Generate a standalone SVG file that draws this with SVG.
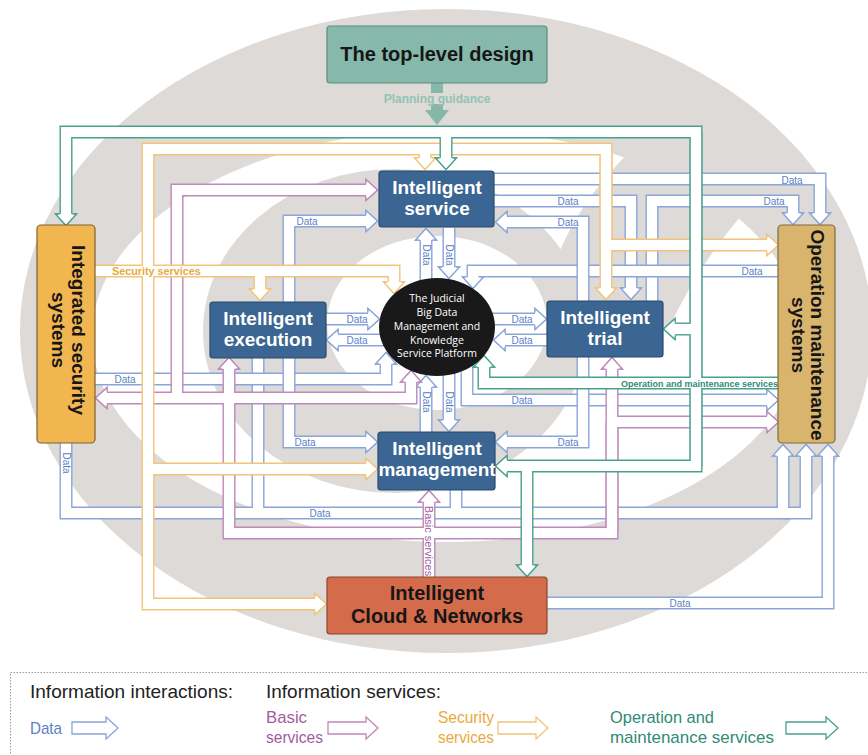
<svg xmlns="http://www.w3.org/2000/svg" width="868" height="755" viewBox="0 0 868 755">
<style>
  .edge{fill:none;stroke-width:13}
  .core{fill:none;stroke:#fff;stroke-width:10.2}
  .c-d{stroke:#89a5d9}
  .c-b{stroke:#bd88ba}
  .c-s{stroke:#f1c47a}
  .c-o{stroke:#48a18d}
  .sans{font-family:"Liberation Sans",Arial,sans-serif}
  .t-d{font-family:"Liberation Sans",Arial,sans-serif;font-size:10px;fill:#5b80c7;text-anchor:middle}
  .box{stroke-width:1.2}
  .t-w{font-family:"Liberation Sans",Arial,sans-serif;font-weight:bold;font-size:19px;fill:#fff;text-anchor:middle}
  .t-k{font-family:"Liberation Sans",Arial,sans-serif;font-weight:bold;font-size:20px;fill:#161616;text-anchor:middle}
  .t-side{font-family:"Liberation Sans",Arial,sans-serif;font-weight:bold;font-size:19px;fill:#161616;text-anchor:middle}
  .t-plat{font-family:"Open Sans","Liberation Sans",sans-serif;font-size:10.5px;fill:#fff;text-anchor:middle}
  .lg-h{font-family:"Liberation Sans",Arial,sans-serif;font-size:19px;fill:#222}
  .lg-t{font-family:"Liberation Sans",Arial,sans-serif;font-size:17px}
  .lg-a{fill:#fff;stroke-width:1.3}
  .ring{fill:#dedad7}
</style>
<defs>
  <clipPath id="outer-clip">
    <ellipse cx="446" cy="331" rx="426" ry="322"/>
  </clipPath>
  <marker id="hd" markerUnits="userSpaceOnUse" markerWidth="12" markerHeight="22" refX="0" refY="0" orient="auto" overflow="visible">
    <path d="M0,-6.5 L0,-10.5 L11.5,0 L0,10.5 L0,6.5" fill="#fff" stroke="#89a5d9" stroke-width="1.3"/>
  </marker>
  <marker id="hb" markerUnits="userSpaceOnUse" markerWidth="12" markerHeight="22" refX="0" refY="0" orient="auto" overflow="visible">
    <path d="M0,-6.5 L0,-10.5 L11.5,0 L0,10.5 L0,6.5" fill="#fff" stroke="#bd88ba" stroke-width="1.3"/>
  </marker>
  <marker id="hs" markerUnits="userSpaceOnUse" markerWidth="12" markerHeight="22" refX="0" refY="0" orient="auto" overflow="visible">
    <path d="M0,-6.5 L0,-10.5 L11.5,0 L0,10.5 L0,6.5" fill="#fff" stroke="#f1c47a" stroke-width="1.3"/>
  </marker>
  <marker id="ho" markerUnits="userSpaceOnUse" markerWidth="12" markerHeight="22" refX="0" refY="0" orient="auto" overflow="visible">
    <path d="M0,-6.5 L0,-10.5 L11.5,0 L0,10.5 L0,6.5" fill="#fff" stroke="#48a18d" stroke-width="1.3"/>
  </marker>

  <!-- data routes (centre lines of the hollow bands) -->
  <g id="dBottom">
    <path d="M66 441V513H783V456" marker-end="url(#hd)"/>
    <path d="M783 513H806V456" marker-end="url(#hd)"/>
    <path d="M258 356V513"/>
    <path d="M456 489V513"/>
  </g>
  <path id="dCloud" d="M546 603H828V456" marker-end="url(#hd)"/>
  <path id="dSvcOm" d="M494 179H820V213" marker-end="url(#hd)"/>
  <g id="dSvcTrialOm">
    <path d="M494 201H631V288" marker-end="url(#hd)"/>
    <path d="M652 302V201H793V213" marker-end="url(#hd)"/>
  </g>
  <path id="dOmPlat" d="M779 271H473V277" marker-end="url(#hd)"/>
  <path id="dPlatOm" d="M467 362V400H767" marker-end="url(#hd)"/>
  <path id="dSecPlat" d="M93 379H386V364" marker-end="url(#hd)"/>
  <g id="dLeft">
    <path d="M289 331V221H366" marker-end="url(#hd)"/>
    <path d="M289 331V442H366" marker-end="url(#hd)"/>
  </g>
  <g id="dRight">
    <path d="M583 331V222H507" marker-end="url(#hd)"/>
    <path d="M583 331V442H507" marker-end="url(#hd)"/>
  </g>
  <path id="dA" d="M449 228V267" marker-end="url(#hd)"/>
  <path id="dB" d="M426 284V240" marker-end="url(#hd)"/>
  <path id="dC" d="M449 372V420" marker-end="url(#hd)"/>
  <path id="dD" d="M426 432V387" marker-end="url(#hd)"/>
  <path id="dE" d="M326 319H368" marker-end="url(#hd)"/>
  <path id="dF" d="M384 340H338" marker-end="url(#hd)"/>
  <path id="dG" d="M490 319H535" marker-end="url(#hd)"/>
  <path id="dH" d="M549 340H505" marker-end="url(#hd)"/>

  <!-- basic services -->
  <g id="pNet">
    <path d="M429 578V502" marker-end="url(#hb)"/>
    <path d="M612 422V533H229V369" marker-end="url(#hb)"/>
    <path d="M612 533V369" marker-end="url(#hb)"/>
    <path d="M612 422H767" marker-end="url(#hb)"/>
    <path d="M229 398H411V382" marker-end="url(#hb)"/>
    <path d="M229 398H107" marker-end="url(#hb)"/>
    <path d="M177 398V190H366" marker-end="url(#hb)"/>
  </g>

  <!-- security services -->
  <g id="sNet">
    <path d="M93 271H394V282" marker-end="url(#hs)"/>
    <path d="M260 271V289" marker-end="url(#hs)"/>
    <path d="M606 245V149H148V604H315" marker-end="url(#hs)"/>
    <path d="M606 149V288" marker-end="url(#hs)"/>
    <path d="M606 245H767" marker-end="url(#hs)"/>
    <path d="M425 149V158" marker-end="url(#hs)"/>
    <path d="M148 469H366" marker-end="url(#hs)"/>
  </g>

  <!-- operation and maintenance services -->
  <g id="oNet">
    <path d="M696 466V132H66V214" marker-end="url(#ho)"/>
    <path d="M696 132V466H507" marker-end="url(#ho)"/>
    <path d="M446 132V158" marker-end="url(#ho)"/>
    <path d="M696 329H675" marker-end="url(#ho)"/>
    <path d="M785 383H484V367" marker-end="url(#ho)"/>
    <path d="M527 466V565" marker-end="url(#ho)"/>
  </g>
</defs>

<rect width="868" height="755" fill="#fff"/>

<!-- layered rings behind the architecture -->
<g id="rings">
  <ellipse class="ring" cx="446" cy="331" rx="426" ry="322"/>
  <ellipse cx="447" cy="336" rx="355" ry="206" fill="#fff"/>
  <ellipse class="ring" cx="395" cy="331" rx="192" ry="162"/>
  <!-- arm of the inner ring sweeping out to the upper right -->
  <path class="ring" clip-path="url(#outer-clip)" d="M545 300 C558 232 600 172 668 118 L750 58 L868 64 L868 112 C792 154 716 226 668 330 Z"/>
  <ellipse cx="437" cy="323" rx="110" ry="87" fill="#fff"/>
</g>

<g id="connectors">
  <g id="data-links">
    <use href="#dBottom" class="edge c-d"/><use href="#dBottom" class="core"/>
    <use href="#dCloud" class="edge c-d"/><use href="#dCloud" class="core"/>
    <use href="#dSvcOm" class="edge c-d"/><use href="#dSvcOm" class="core"/>
    <use href="#dSvcTrialOm" class="edge c-d"/><use href="#dSvcTrialOm" class="core"/>
    <use href="#dOmPlat" class="edge c-d"/><use href="#dOmPlat" class="core"/>
    <use href="#dPlatOm" class="edge c-d"/><use href="#dPlatOm" class="core"/>
    <use href="#dSecPlat" class="edge c-d"/><use href="#dSecPlat" class="core"/>
    <use href="#dLeft" class="edge c-d"/><use href="#dLeft" class="core"/>
    <use href="#dRight" class="edge c-d"/><use href="#dRight" class="core"/>
    <use href="#dA" class="edge c-d"/><use href="#dA" class="core"/>
    <use href="#dB" class="edge c-d"/><use href="#dB" class="core"/>
    <use href="#dC" class="edge c-d"/><use href="#dC" class="core"/>
    <use href="#dD" class="edge c-d"/><use href="#dD" class="core"/>
    <use href="#dE" class="edge c-d"/><use href="#dE" class="core"/>
    <use href="#dF" class="edge c-d"/><use href="#dF" class="core"/>
    <use href="#dG" class="edge c-d"/><use href="#dG" class="core"/>
    <use href="#dH" class="edge c-d"/><use href="#dH" class="core"/>
  </g>
  <g id="basic-links">
    <use href="#pNet" class="edge c-b"/><use href="#pNet" class="core"/>
  </g>
  <g id="security-links">
    <use href="#sNet" class="edge c-s"/><use href="#sNet" class="core"/>
  </g>
  <g id="om-links">
    <use href="#oNet" class="edge c-o"/><use href="#oNet" class="core"/>
  </g>

  <g id="link-labels">
    <text class="t-d" x="792" y="183.5">Data</text>
    <text class="t-d" x="774" y="205">Data</text>
    <text class="t-d" x="568" y="205">Data</text>
    <text class="t-d" x="568" y="226">Data</text>
    <text class="t-d" x="307" y="225">Data</text>
    <text class="t-d" x="752" y="275">Data</text>
    <text class="t-d" x="357" y="323">Data</text>
    <text class="t-d" x="357" y="344">Data</text>
    <text class="t-d" x="522" y="323">Data</text>
    <text class="t-d" x="522" y="344">Data</text>
    <text class="t-d" x="125" y="383">Data</text>
    <text class="t-d" x="522" y="404">Data</text>
    <text class="t-d" x="305" y="446">Data</text>
    <text class="t-d" x="568" y="446">Data</text>
    <text class="t-d" x="320" y="517">Data</text>
    <text class="t-d" x="680" y="607">Data</text>
    <text class="t-d" transform="translate(426,255) rotate(90)" y="3.5">Data</text>
    <text class="t-d" transform="translate(449,255) rotate(90)" y="3.5">Data</text>
    <text class="t-d" transform="translate(426,402) rotate(90)" y="3.5">Data</text>
    <text class="t-d" transform="translate(449,402) rotate(90)" y="3.5">Data</text>
    <text class="t-d" transform="translate(66,463) rotate(90)" y="3.5">Data</text>
    <text class="sans" x="112" y="275" font-size="10.8" font-weight="bold" fill="#eaa93c">Security services</text>
    <text class="sans" x="621" y="386.5" font-size="9" font-weight="bold" fill="#2f8b76">Operation and maintenance services</text>
    <text class="sans" transform="translate(429,541) rotate(90)" y="4" font-size="11" fill="#a35c9f" text-anchor="middle">Basic services</text>
  </g>
</g>

<!-- planning guidance from the top-level design -->
<g id="planning">
  <rect x="431" y="83" width="12" height="10" fill="#86b7aa"/>
  <rect x="431" y="104" width="12" height="7" fill="#86b7aa"/>
  <polygon points="425,110 449,110 437,125" fill="#86b7aa"/>
  <text class="sans" x="437" y="103" font-size="12" font-weight="bold" fill="#93c2b5" text-anchor="middle">Planning guidance</text>
</g>

<g id="n-top">
  <rect class="box" x="327" y="26" width="220" height="57" rx="3" fill="#86b8ab" stroke="#5d8d80"/>
  <text class="t-k" x="437" y="61">The top-level design</text>
</g>

<g id="n-service">
  <rect class="box" x="379" y="171" width="115" height="56" rx="3" fill="#3b6592" stroke="#284a70"/>
  <text class="t-w" x="437" y="194">Intelligent</text>
  <text class="t-w" x="437" y="215">service</text>
</g>

<g id="n-execution">
  <rect class="box" x="210" y="302" width="116" height="56" rx="3" fill="#3b6592" stroke="#284a70"/>
  <text class="t-w" x="268" y="325">Intelligent</text>
  <text class="t-w" x="268" y="346">execution</text>
</g>

<g id="n-trial">
  <rect class="box" x="547" y="301" width="116" height="56" rx="3" fill="#3b6592" stroke="#284a70"/>
  <text class="t-w" x="605" y="324">Intelligent</text>
  <text class="t-w" x="605" y="345">trial</text>
</g>

<g id="n-management">
  <rect class="box" x="378" y="432" width="117" height="58" rx="3" fill="#3b6592" stroke="#284a70"/>
  <text class="t-w" x="437" y="455">Intelligent</text>
  <text class="t-w" x="437" y="476">management</text>
</g>

<g id="n-platform">
  <ellipse cx="437" cy="327" rx="58" ry="49" fill="#191919"/>
  <text class="t-plat" x="437" y="302">The Judicial</text>
  <text class="t-plat" x="437" y="316">Big Data</text>
  <text class="t-plat" x="437" y="330">Management and</text>
  <text class="t-plat" x="437" y="344">Knowledge</text>
  <text class="t-plat" x="437" y="357">Service Platform</text>
</g>

<g id="n-security">
  <rect class="box" x="37" y="225" width="58" height="218" rx="4" fill="#f2b650" stroke="#7d6030"/>
  <g transform="translate(66,330) rotate(90)">
    <text class="t-side" y="-6">Integrated security</text>
    <text class="t-side" y="14">systems</text>
  </g>
</g>

<g id="n-om">
  <rect class="box" x="778" y="225" width="57" height="218" rx="4" fill="#d8b46c" stroke="#7f6a40"/>
  <g transform="translate(807,335) rotate(90)">
    <text class="t-side" y="-4" font-size="18.5">Operation maintenance</text>
    <text class="t-side" y="15" font-size="18.5">systems</text>
  </g>
</g>

<g id="n-cloud">
  <rect class="box" x="327" y="577" width="220" height="57" rx="3" fill="#d46b4b" stroke="#8a4631"/>
  <text class="t-k" x="437" y="600">Intelligent</text>
  <text class="t-k" x="437" y="623">Cloud &amp; Networks</text>
</g>

<g id="legend">
  <rect x="10.5" y="672.5" width="880" height="110" fill="none" stroke="#9a9a9a" stroke-dasharray="1.5 1.5"/>
  <text class="lg-h" x="30" y="698" textLength="203" lengthAdjust="spacingAndGlyphs">Information interactions:</text>
  <text class="lg-h" x="266" y="698" textLength="175" lengthAdjust="spacingAndGlyphs">Information services:</text>
  <text class="lg-t" x="30" y="734" fill="#5b80c7" textLength="32" lengthAdjust="spacingAndGlyphs">Data</text>
  <polygon class="lg-a" stroke="#89a5d9" points="72,722 106,722 106,717 118,728 106,739 106,734 72,734"/>
  <text class="lg-t" x="266" y="723" fill="#a35c9f" textLength="41" lengthAdjust="spacingAndGlyphs">Basic</text>
  <text class="lg-t" x="266" y="743" fill="#a35c9f" textLength="57" lengthAdjust="spacingAndGlyphs">services</text>
  <polygon class="lg-a" stroke="#bd88ba" points="328,722 366,722 366,717 378,728 366,739 366,734 328,734"/>
  <text class="lg-t" x="438" y="723" fill="#eaa93c" textLength="56" lengthAdjust="spacingAndGlyphs">Security</text>
  <text class="lg-t" x="438" y="743" fill="#eaa93c" textLength="56" lengthAdjust="spacingAndGlyphs">services</text>
  <polygon class="lg-a" stroke="#f1c47a" points="498,722 536,722 536,717 548,728 536,739 536,734 498,734"/>
  <text class="lg-t" x="610" y="723" fill="#2f8b76" textLength="104" lengthAdjust="spacingAndGlyphs">Operation and</text>
  <text class="lg-t" x="610" y="743" fill="#2f8b76" textLength="164" lengthAdjust="spacingAndGlyphs">maintenance services</text>
  <polygon class="lg-a" stroke="#48a18d" points="786,722 826,722 826,717 838,728 826,739 826,734 786,734"/>
</g>
</svg>
